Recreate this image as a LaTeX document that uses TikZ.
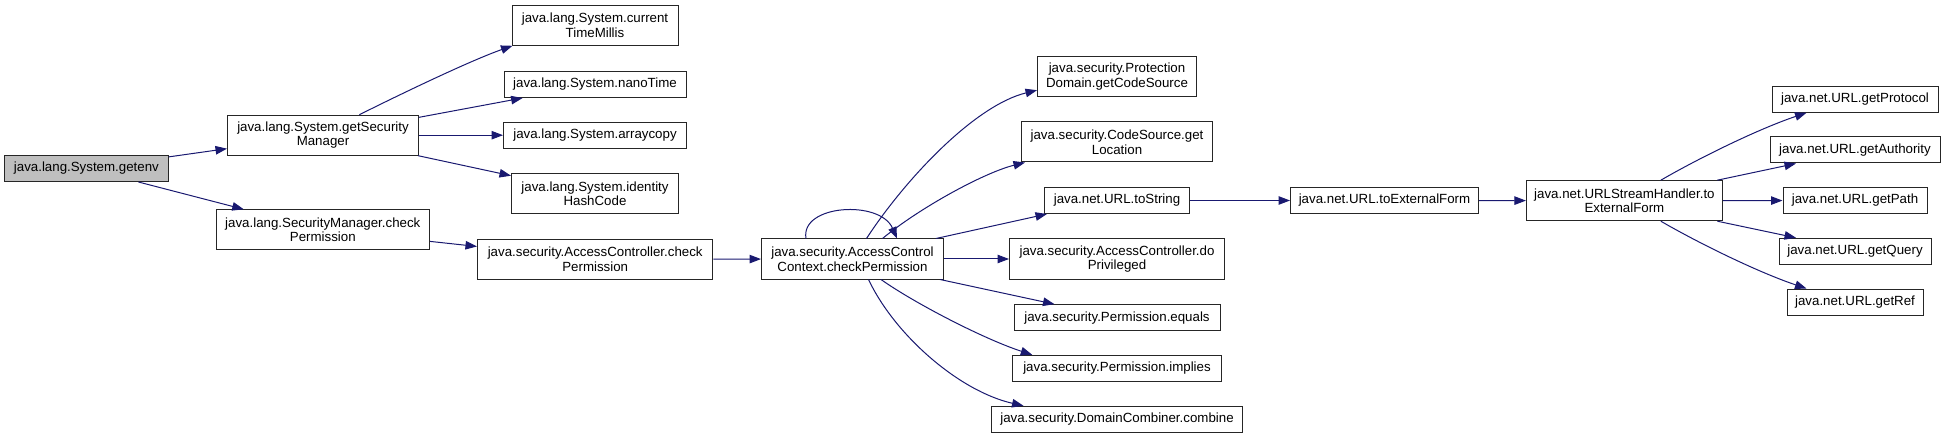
\documentclass[tikz,border=0pt]{standalone}
\usepackage{fontspec}
\setmainfont{Liberation Sans}
\usetikzlibrary{arrows.meta}
\definecolor{callblue}{HTML}{191970}
\definecolor{rootgray}{HTML}{BFBFBF}

\begin{document}
\begin{tikzpicture}[x=1pt,y=-1pt,
 fn/.style={draw=black!85,line width=1pt,fill=white,align=center,inner sep=0pt,
 font=\fontsize{13.3}{14.7}\selectfont,minimum height=26pt},
 fntwo/.style={fn,minimum height=40pt},
 call/.style={-{Triangle[length=11.5pt,width=8.5pt]},line width=1pt,draw=callblue}]
\useasboundingbox (0,0) rectangle (1945,438);
\node[fn,fill=rootgray,minimum width=164pt] (getenv) at (86.4,168.5) {java.lang.System.getenv};
\node[fntwo,minimum width=191pt] (getSM) at (323,135.2) {java.lang.System.getSecurity\\Manager};
\node[fntwo,minimum width=213.5pt] (smCheck) at (322.8,229.8) {java.lang.SecurityManager.check\\Permission};
\node[fntwo,minimum width=166pt] (millis) at (595,25.3) {java.lang.System.current\\TimeMillis};
\node[fn,minimum width=182pt] (nano) at (595,84.5) {java.lang.System.nanoTime};
\node[fn,minimum width=183pt] (arraycopy) at (595,135.2) {java.lang.System.arraycopy};
\node[fntwo,minimum width=167pt] (hash) at (595,193.7) {java.lang.System.identity\\HashCode};
\node[fntwo,minimum width=235.5pt] (acCheck) at (595.2,259.2) {java.security.AccessController.check\\Permission};
\node[fntwo,minimum width=182pt] (accCheck) at (852.5,259) {java.security.AccessControl\\Context.checkPermission};
\node[fntwo,minimum width=159pt] (codeSrc) at (1117,76.7) {java.security.Protection\\Domain.getCodeSource};
\node[fntwo,minimum width=191pt] (location) at (1117,142) {java.security.CodeSource.get\\Location};
\node[fn,minimum width=145pt] (toString) at (1117,200.5) {java.net.URL.toString};
\node[fntwo,minimum width=215pt] (doPriv) at (1117,259) {java.security.AccessController.do\\Privileged};
\node[fn,minimum width=206pt] (equals) at (1117,317.7) {java.security.Permission.equals};
\node[fn,minimum width=208.5pt] (implies) at (1117,368.3) {java.security.Permission.implies};
\node[fn,minimum width=251pt] (combine) at (1117,419.3) {java.security.DomainCombiner.combine};
\node[fn,minimum width=188pt] (extForm) at (1384.5,200.5) {java.net.URL.toExternalForm};
\node[fntwo,minimum width=196pt] (handler) at (1624.4,200.7) {java.net.URLStreamHandler.to\\ExternalForm};
\node[fn,minimum width=166pt] (protocol) at (1855,99.3) {java.net.URL.getProtocol};
\node[fn,minimum width=170pt] (authority) at (1855,150) {java.net.URL.getAuthority};
\node[fn,minimum width=144pt] (path) at (1855,200.5) {java.net.URL.getPath};
\node[fn,minimum width=152pt] (query) at (1855,251.3) {java.net.URL.getQuery};
\node[fn,minimum width=136pt] (ref) at (1855,302) {java.net.URL.getRef};
\draw[call] (getenv) -- (getSM);
\draw[call] (getenv) -- (smCheck);
\draw[call] ([xshift=36.4pt]getSM.north) .. controls +(40.6,-20.3) and +(-42,14.7) .. ([xshift=1pt]millis.south west);
\draw[call] (getSM) -- (nano);
\draw[call] (getSM) -- (arraycopy);
\draw[call] (getSM) -- (hash);
\draw[call] (smCheck) -- (acCheck);
\draw[call] (acCheck) -- (accCheck);
\draw[call] ([xshift=-46.5pt]accCheck.north) .. controls +(-6,-34) and +(-17,-39) .. ([xshift=44.5pt]accCheck.north);
\draw[call] ([xshift=14pt]accCheck.north) .. controls +(38.5,-59) and +(-62.5,15.3) .. ([yshift=7pt]codeSrc.south west);
\draw[call] ([xshift=30pt]accCheck.north) .. controls +(37.5,-31) and +(-40.5,10) .. ([xshift=4pt]location.south west);
\draw[call] ([xshift=-8pt]accCheck.north east) -- ([xshift=3pt]toString.south west);
\draw[call] (accCheck) -- (doPriv);
\draw[call] ([xshift=-4pt]accCheck.south east) -- ([xshift=41pt]equals.north west);
\draw[call] ([xshift=28.5pt]accCheck.south) .. controls +(34,24) and +(-47.75,-15.5) .. ([xshift=20pt]implies.north west);
\draw[call] ([xshift=16pt]accCheck.south) .. controls +(26.5,56) and +(-64,-14.5) .. ([xshift=32.5pt]combine.north west);
\draw[call] (toString) -- (extForm);
\draw[call] (extForm) -- (handler);
\draw[call] ([xshift=36.4pt]handler.north) .. controls +(39.2,-22.7) and +(-47,15.7) .. ([xshift=35pt]protocol.south west);
\draw[call] ([xshift=-5.6pt]handler.north east) -- ([xshift=26.5pt]authority.south west);
\draw[call] (handler) -- (path);
\draw[call] ([xshift=-5.6pt]handler.south east) -- ([xshift=17.5pt]query.north west);
\draw[call] ([xshift=36.4pt]handler.south) .. controls +(39.2,22.7) and +(-47,-15.7) .. ([xshift=20pt]ref.north west);
\end{tikzpicture}
\end{document}
